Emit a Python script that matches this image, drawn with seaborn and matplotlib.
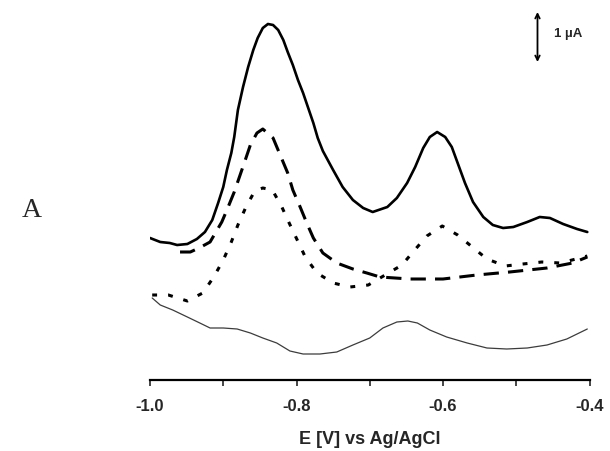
import numpy as np
import pandas as pd
import matplotlib
matplotlib.use("Agg")
import matplotlib.pyplot as plt
import seaborn as sns

# Differential pulse voltammograms: potential (V vs Ag/AgCl) and current (µA, offset)
E_solid = [-1.000, -0.986, -0.973, -0.963, -0.949, -0.936, -0.925, -0.915, -0.907,
           -0.900, -0.895, -0.889, -0.885, -0.880, -0.873, -0.866, -0.859, -0.853,
           -0.846, -0.839, -0.832, -0.825, -0.818, -0.812, -0.805, -0.798, -0.791,
           -0.784, -0.777, -0.771, -0.764, -0.750, -0.737, -0.723, -0.709, -0.696,
           -0.676, -0.663, -0.649, -0.638, -0.627, -0.618, -0.608, -0.597, -0.588,
           -0.580, -0.570, -0.559, -0.545, -0.532, -0.518, -0.504, -0.485, -0.468,
           -0.454, -0.436, -0.417, -0.403]
I_solid = [2.84, 2.76, 2.74, 2.70, 2.72, 2.82, 2.96, 3.20, 3.54, 3.86, 4.20, 4.54,
           4.86, 5.40, 5.86, 6.26, 6.60, 6.84, 7.04, 7.12, 7.10, 7.00, 6.80, 6.56,
           6.30, 6.00, 5.74, 5.44, 5.14, 4.84, 4.58, 4.20, 3.86, 3.60, 3.44, 3.36,
           3.46, 3.64, 3.94, 4.26, 4.64, 4.86, 4.96, 4.86, 4.66, 4.34, 3.94, 3.56,
           3.26, 3.10, 3.04, 3.06, 3.16, 3.26, 3.24, 3.12, 3.02, 2.96]

E_long = [-0.959, -0.945, -0.933, -0.918, -0.910, -0.902, -0.895, -0.885, -0.877,
          -0.869, -0.863, -0.854, -0.846, -0.832, -0.824, -0.812, -0.805, -0.795,
          -0.786, -0.777, -0.764, -0.745, -0.723, -0.704, -0.686, -0.645, -0.600,
          -0.554, -0.509, -0.458, -0.423, -0.403]
I_long = [2.56, 2.56, 2.64, 2.76, 2.96, 3.16, 3.40, 3.76, 4.10, 4.44, 4.70, 4.94,
          5.02, 4.84, 4.56, 4.14, 3.80, 3.46, 3.14, 2.84, 2.54, 2.34, 2.22, 2.14,
          2.06, 2.02, 2.02, 2.10, 2.16, 2.24, 2.34, 2.46]

E_short = [-0.997, -0.975, -0.949, -0.928, -0.913, -0.900, -0.889, -0.880, -0.869,
           -0.857, -0.846, -0.833, -0.820, -0.810, -0.799, -0.788, -0.772, -0.750,
           -0.727, -0.702, -0.656, -0.641, -0.622, -0.601, -0.580, -0.560, -0.540,
           -0.515, -0.491, -0.465, -0.440, -0.413, -0.403]
I_short = [1.70, 1.70, 1.58, 1.74, 2.06, 2.40, 2.76, 3.10, 3.46, 3.78, 3.84, 3.80,
           3.46, 3.14, 2.80, 2.46, 2.14, 1.94, 1.86, 1.90, 2.30, 2.56, 2.88, 3.08,
           2.90, 2.66, 2.42, 2.28, 2.32, 2.36, 2.34, 2.44, 2.48]

E_blank = [-0.997, -0.986, -0.969, -0.949, -0.932, -0.918, -0.900, -0.881, -0.863,
           -0.846, -0.827, -0.809, -0.791, -0.768, -0.745, -0.723, -0.700, -0.682,
           -0.663, -0.648, -0.635, -0.618, -0.595, -0.567, -0.540, -0.513, -0.485,
           -0.458, -0.431, -0.403]
I_blank = [1.64, 1.50, 1.40, 1.26, 1.14, 1.04, 1.04, 1.02, 0.94, 0.84, 0.74, 0.58,
           0.52, 0.52, 0.56, 0.70, 0.84, 1.04, 1.16, 1.18, 1.14, 1.00, 0.86, 0.74,
           0.64, 0.62, 0.64, 0.70, 0.82, 1.02]

x_ticks = [-1.0, -0.9, -0.8, -0.7, -0.6, -0.5, -0.4]
x_ticklabels = ["-1.0", "", "-0.8", "", "-0.6", "", "-0.4"]

sns.set_style("white")
plt.rcParams["font.family"] = ["Liberation Sans", "DejaVu Sans"]

fig = plt.figure(figsize=(6.10, 4.51), dpi=100)
ax = fig.add_axes([150 / 610, 1 - 380 / 451, 439.5 / 610, 380 / 451])


def draw(E, I, **kw):
    df = pd.DataFrame({"E": E, "I": I})
    sns.lineplot(data=df, x="E", y="I", sort=False, ax=ax, estimator=None,
                 solid_joinstyle="round", solid_capstyle="round", **kw)


draw(E_solid, I_solid, color="black", linewidth=1.9)
draw(E_long, I_long, color="black", linewidth=2.2, dashes=(5, 3))
draw(E_short, I_short, color="black", linewidth=2.2, dashes=(1.6, 3.6))
draw(E_blank, I_blank, color="#3c3c3c", linewidth=0.9)

ax.set_xlim(-1.0, -0.4)
ax.set_ylim(0, 7.6)
ax.set_xticks(x_ticks)
ax.set_xticklabels(x_ticklabels, fontsize=12, fontweight="bold")
ax.set_yticks([])
ax.set_ylabel("")
ax.set_xlabel("E [V] vs Ag/AgCl", fontsize=13, fontweight="bold", labelpad=12)
ax.tick_params(axis="x", direction="out", length=4, width=1.2, pad=10, bottom=True)
sns.despine(ax=ax, left=True, top=True, right=True)
ax.spines["bottom"].set_linewidth(1.6)
ax.spines["bottom"].set_color("black")

# 1 µA scale bar
ax.annotate("", xy=(-0.471, 7.36), xytext=(-0.471, 6.36),
            arrowprops=dict(arrowstyle="<->", color="black", lw=1.3,
                            shrinkA=0, shrinkB=0, mutation_scale=8),
            annotation_clip=False)
ax.text(-0.448, 6.92, "1 µA", fontsize=9.5, fontweight="bold", va="center", ha="left")

fig.text(22 / 610, 1 - 211 / 451, "A", fontsize=20, family=["Liberation Serif", "DejaVu Serif"],
         va="center", ha="left")

fig.savefig("out.png", dpi=100)
